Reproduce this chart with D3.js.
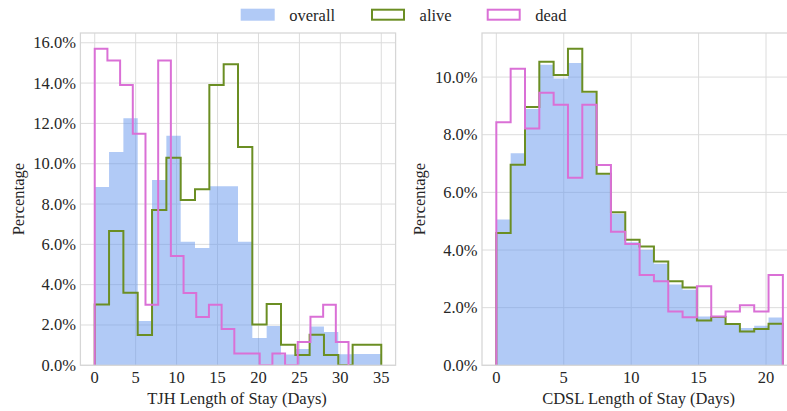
<!DOCTYPE html>
<html lang="en">
<head>
<meta charset="utf-8">
<title>Length of stay histograms</title>
<script src="https://d3js.org/d3.v7.min.js"></script>
<style>
  body { margin: 0; background: #fff; }
  text { font-family: "Liberation Serif", "Times New Roman", serif; font-size: 16.5px; fill: #262626; }
</style>
</head>
<body>
<svg id="chart" width="787" height="411"></svg>
<script>
// ---- data (percent of patients per bin) ----
var seriesNames = ["overall", "alive", "dead"];

// TJH: overall and alive use 20 bins over 0-35 days, dead uses 20 bins over 0-31 days
var tjhRange = [0, 35];
var tjhDeadRange = [0, 31];
var tjhOverall = [8.85, 10.58, 12.25, 2.20, 9.19, 11.39, 6.13, 5.82, 8.88, 8.88,
                  6.13, 1.36, 1.95, 0.54, 0.81, 1.92, 1.65, 0.55, 0.56, 0.56];
var tjhAlive = [3.02, 6.66, 3.60, 1.50, 7.70, 10.30, 8.20, 8.73, 13.90, 14.93,
                10.83, 2.02, 3.04, 1.02, 0.51, 1.52, 0.51, 0.00, 1.02, 1.02];
var tjhDead = [15.70, 15.12, 13.90, 11.49, 3.01, 15.12, 5.42, 3.59, 2.40, 3.01,
               1.80, 0.58, 0.58, 0.00, 0.58, 0.00, 1.16, 2.41, 3.01, 1.16];

// CDSL: all series use 20 bins over 0-21.25 days
var cdslRange = [0, 21.25];
var cdslOverall = [5.06, 7.36, 8.89, 10.43, 9.95, 10.49, 9.45, 6.62, 5.26, 4.27,
                   4.01, 3.52, 2.80, 2.62, 1.69, 1.66, 1.44, 1.29, 1.37, 1.66];
var cdslAlive = [4.59, 6.96, 8.96, 10.53, 10.07, 10.98, 9.49, 6.65, 5.31, 4.36,
                 4.12, 3.60, 2.92, 2.70, 1.55, 1.68, 1.43, 1.17, 1.26, 1.44];
var cdslDead = [8.43, 10.29, 8.22, 9.46, 9.04, 6.51, 9.04, 6.95, 4.63, 4.21,
                3.13, 2.92, 1.87, 1.67, 2.74, 1.69, 1.87, 2.08, 1.87, 3.13];

var tjhXTicks = [0, 5, 10, 15, 20, 25, 30, 35];
var tjhYTicks = [0, 2, 4, 6, 8, 10, 12, 14, 16];
var cdslXTicks = [0, 5, 10, 15, 20];
var cdslYTicks = [0, 2, 4, 6, 8, 10];

var colors = { overall: "#6495ed", alive: "#6b8e23", dead: "#da70d6" };

var svg = d3.select("#chart");
var plotTop = 33, plotBottom = 365.3, panelW = 315.2;

// bin edges from a range split in n equal bins
function edges(range, n) {
  return d3.range(n + 1).map(function(i) { return range[0] + (range[1] - range[0]) * i / n; });
}

function stepPoints(range, vals) {
  var e = edges(range, vals.length), pts = [[e[0], 0]];
  vals.forEach(function(v, i) { pts.push([e[i], v]); pts.push([e[i + 1], v]); });
  pts.push([e[vals.length], 0]);
  return pts;
}

var drawPanel = function(opt) {
  var xMin = opt.xRange[0], xMax = opt.xRange[1];
  var pad = (xMax - xMin) * 0.05;
  var x = d3.scaleLinear().domain([xMin - pad, xMax + pad]).range([opt.left, opt.left + panelW]);
  var yMax = d3.max(opt.overall.concat(opt.alive, opt.dead)) * 1.05;
  var y = d3.scaleLinear().domain([0, yMax]).range([plotBottom, plotTop]);

  var g = svg.append("g");
  var clipId = "clip" + opt.id;
  g.append("clipPath").attr("id", clipId).append("rect")
    .attr("x", opt.left).attr("y", plotTop).attr("width", panelW).attr("height", plotBottom - plotTop);

  // grid
  g.append("g").selectAll("line").data(opt.xTicks).enter().append("line")
    .attr("x1", function(d) { return x(d); }).attr("x2", function(d) { return x(d); })
    .attr("y1", plotTop).attr("y2", plotBottom)
    .attr("stroke", "#dcdcdc").attr("stroke-width", 1);
  g.append("g").selectAll("line").data(opt.yTicks).enter().append("line")
    .attr("x1", opt.left).attr("x2", opt.left + panelW)
    .attr("y1", function(d) { return y(d); }).attr("y2", function(d) { return y(d); })
    .attr("stroke", "#dcdcdc").attr("stroke-width", 1);

  var line = d3.line().x(function(d) { return x(d[0]); }).y(function(d) { return y(d[1]); });
  var plot = g.append("g").attr("clip-path", "url(#" + clipId + ")");

  plot.append("path")
    .attr("d", line(stepPoints(opt.xRange, opt.overall)) + "Z")
    .attr("fill", colors.overall).attr("fill-opacity", 0.5).attr("stroke", "none");
  plot.append("path")
    .attr("d", line(stepPoints(opt.xRange, opt.alive)))
    .attr("fill", "none").attr("stroke", colors.alive).attr("stroke-width", 2);
  plot.append("path")
    .attr("d", line(stepPoints(opt.deadRange, opt.dead)))
    .attr("fill", "none").attr("stroke", colors.dead).attr("stroke-width", 2);

  // spines
  g.append("rect")
    .attr("x", opt.left).attr("y", plotTop).attr("width", panelW).attr("height", plotBottom - plotTop)
    .attr("fill", "none").attr("stroke", "#d6d6d6").attr("stroke-width", 1.25);

  // ticks
  g.append("g").selectAll("text").data(opt.xTicks).enter().append("text")
    .attr("x", function(d) { return x(d); }).attr("y", plotBottom + 17.5)
    .attr("text-anchor", "middle").text(function(d) { return d; });
  g.append("g").selectAll("text").data(opt.yTicks).enter().append("text")
    .attr("x", opt.left - 4.5).attr("y", function(d) { return y(d) + 5.5; })
    .attr("text-anchor", "end").text(function(d) { return d.toFixed(1) + "%"; });

  // axis labels
  g.append("text").attr("x", opt.left + panelW / 2 - 1).attr("y", 404)
    .attr("text-anchor", "middle").attr("font-size", "17.3px").text(opt.xLabel);
  g.append("text")
    .attr("transform", "translate(" + (opt.left - opt.yLabelOff) + "," + ((plotTop + plotBottom) / 2) + ") rotate(-90)")
    .attr("text-anchor", "middle").attr("font-size", "17.3px").text("Percentage");
};

drawPanel({ id: 1, left: 80.4, xRange: tjhRange, deadRange: tjhDeadRange,
  overall: tjhOverall, alive: tjhAlive, dead: tjhDead,
  xTicks: tjhXTicks, yTicks: tjhYTicks, xLabel: "TJH Length of Stay (Days)", yLabelOff: 56 });
drawPanel({ id: 2, left: 482, xRange: cdslRange, deadRange: cdslRange,
  overall: cdslOverall, alive: cdslAlive, dead: cdslDead,
  xTicks: cdslXTicks, yTicks: cdslYTicks, xLabel: "CDSL Length of Stay (Days)", yLabelOff: 57 });

// legend
var legendX = [240.7, 371, 486.7];
var legend = svg.append("g").selectAll("g").data(seriesNames).enter().append("g")
  .attr("transform", function(d, i) { return "translate(" + legendX[i] + ",8.7)"; });
legend.append("rect")
  .attr("x", function(d) { return d === "overall" ? 0 : 1; })
  .attr("y", function(d) { return d === "overall" ? 0 : 1; })
  .attr("width", function(d) { return d === "overall" ? 34 : 32; })
  .attr("height", function(d) { return d === "overall" ? 12 : 10; })
  .attr("fill", function(d) { return d === "overall" ? colors.overall : "none"; })
  .attr("fill-opacity", 0.5)
  .attr("stroke", function(d) { return d === "overall" ? "none" : colors[d]; })
  .attr("stroke-width", 2);
legend.append("text").attr("x", 48.6).attr("y", 11.8).text(function(d) { return d; });
</script>
</body>
</html>
